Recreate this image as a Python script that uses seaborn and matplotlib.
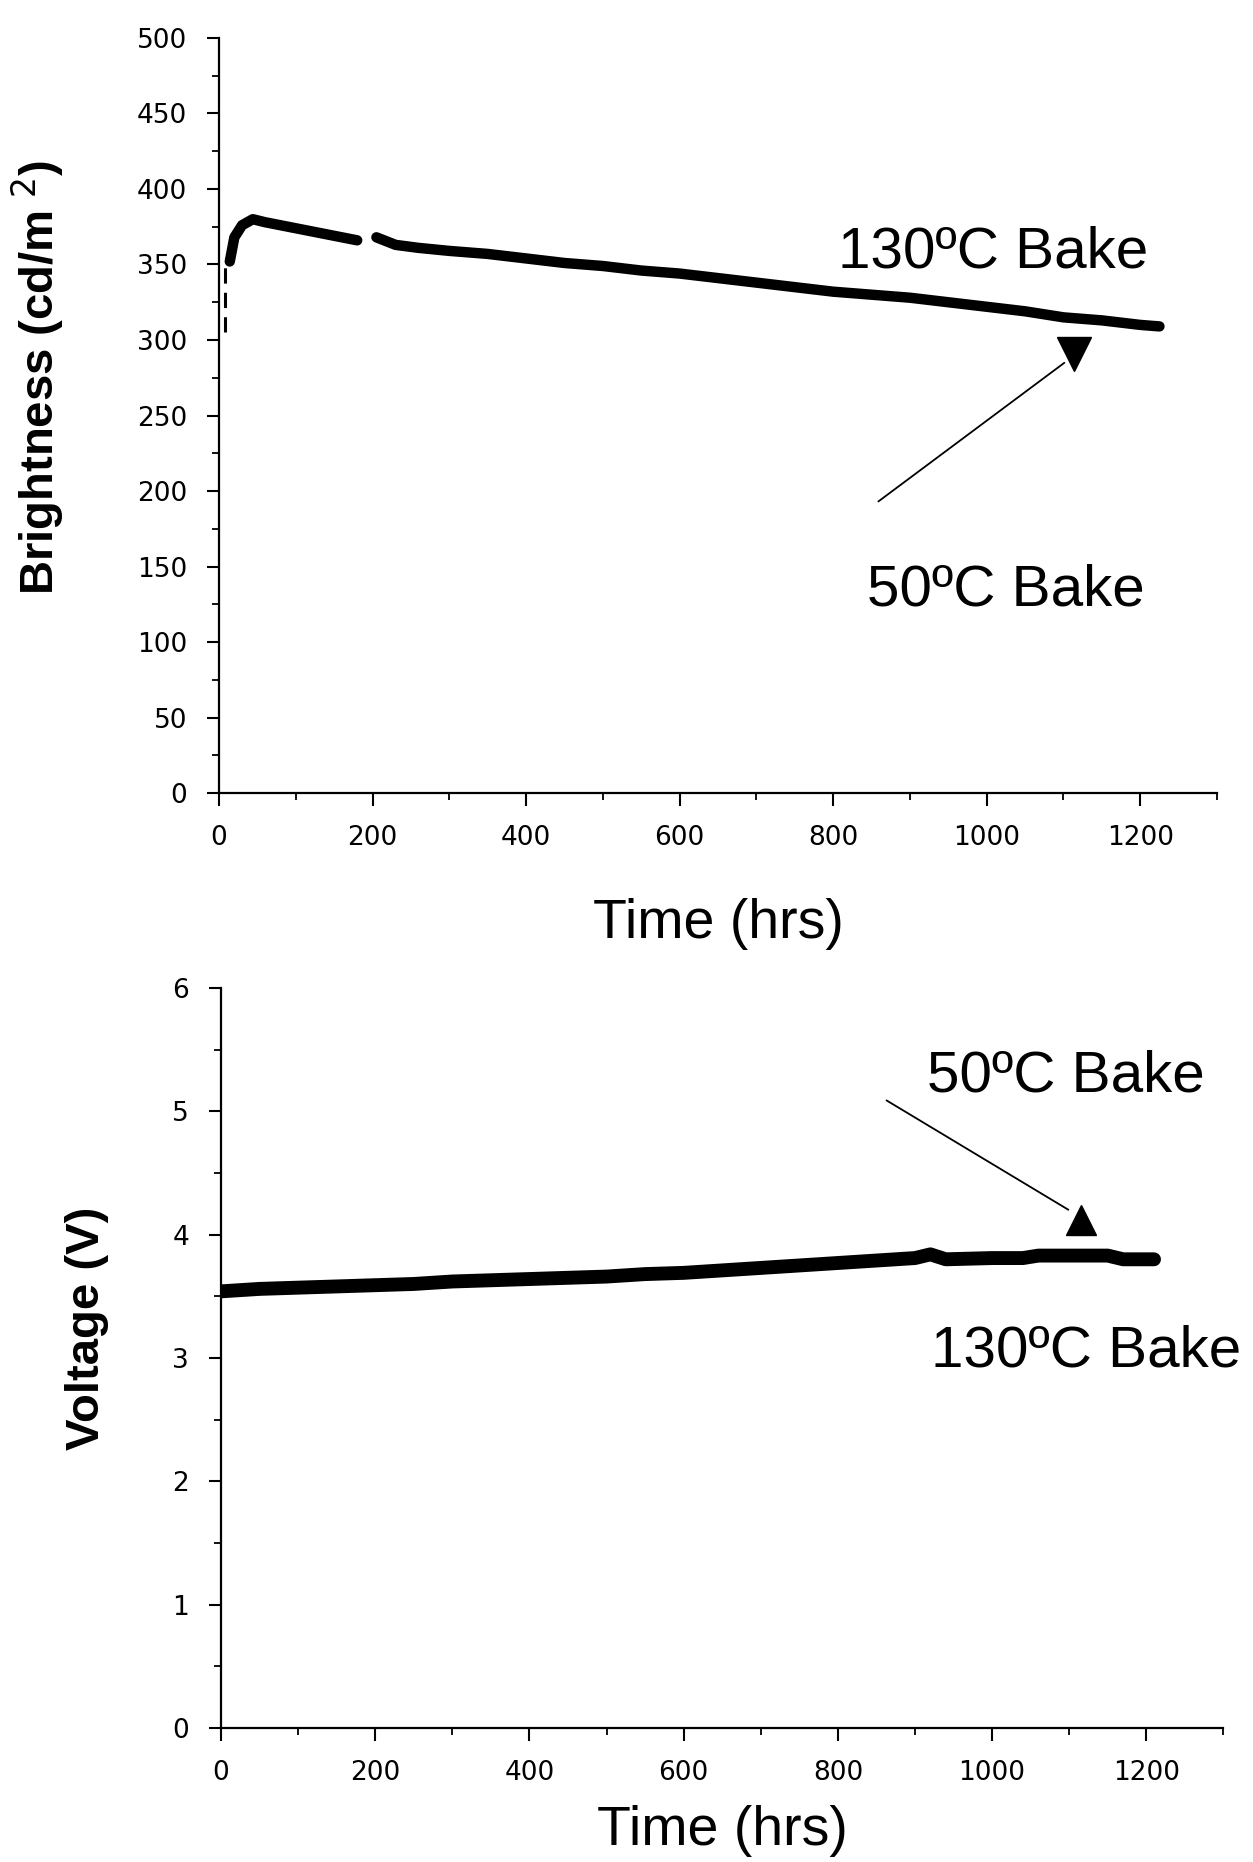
#!/usr/bin/env python
# -*- coding: utf-8 -*-

"""
Brilho e tensão ao longo do tempo de bake (130ºC vs 50ºC).
"""

import pandas as pd
import matplotlib.pyplot as plt
from matplotlib.ticker import MultipleLocator
import seaborn as sns

# --- dados ---
# brilho: segmento inicial tracejado, depois duas partes da curva (há um buraco ~190 h)
bright_ramp_t = [8, 8]
bright_ramp_b = [305, 352]
bright_seg1_t = [14, 20, 30, 44, 60, 80, 100, 130, 160, 180]
bright_seg1_b = [352, 368, 376, 380, 378, 376, 374, 371, 368, 366]
bright_seg2_t = [205, 230, 260, 300, 350, 400, 450, 500, 550, 600, 650, 700, 750,
                 800, 850, 900, 950, 1000, 1050, 1100, 1150, 1200, 1225]
bright_seg2_b = [368, 363, 361, 359, 357, 354, 351, 349, 346, 344, 341, 338, 335,
                 332, 330, 328, 325, 322, 319, 315, 313, 310, 309]

# tensão
volt_t = [0, 50, 100, 150, 200, 250, 300, 350, 400, 450, 500, 550, 600, 650, 700,
          750, 800, 850, 900, 920, 940, 1000, 1040, 1060, 1100, 1150, 1170, 1210]
volt_v = [3.54, 3.56, 3.57, 3.58, 3.59, 3.60, 3.62, 3.63, 3.64, 3.65, 3.66, 3.68,
          3.69, 3.71, 3.73, 3.75, 3.77, 3.79, 3.81, 3.84, 3.80, 3.81, 3.81, 3.83,
          3.83, 3.83, 3.80, 3.80]

# marcador do 50ºC (triângulo) e setas
b50_t, b50_b = [1114], [291]
v50_t, v50_v = [1115], [4.12]
arrow_top = ((856, 192), (1104, 286))
arrow_bot = ((860, 5.10), (1102, 4.19))

rotulo_130 = "130ºC Bake"
rotulo_50 = "50ºC Bake"

sns.set_style("ticks")
plt.rcParams['font.family'] = ['Liberation Sans', 'DejaVu Sans']
plt.rcParams.update({
    'axes.linewidth': 1.6,
    'axes.edgecolor': 'black',
    'axes.labelcolor': 'black',
    'text.color': 'black',
    'xtick.color': 'black',
    'ytick.color': 'black',
})

fig = plt.figure(figsize=(12.53, 18.62), dpi=100)
ax1 = fig.add_axes([0.1748, 0.5741, 0.7965, 0.4055])
ax2 = fig.add_axes([0.1764, 0.0720, 0.8000, 0.3974])

# --- painel de brilho ---
# estimator=None senão o seaborn junta os dois pontos com o mesmo x
sns.lineplot(x=bright_ramp_t, y=bright_ramp_b, ax=ax1, color='black', lw=2.2,
             estimator=None, errorbar=None, sort=False, linestyle=(0, (5, 3)))
sns.lineplot(x=bright_seg1_t, y=bright_seg1_b, ax=ax1, color='black', lw=7.5,
             estimator=None, sort=False)
sns.lineplot(x=bright_seg2_t, y=bright_seg2_b, ax=ax1, color='black', lw=7.5,
             estimator=None, sort=False)
ax1.plot(b50_t, b50_b, marker='v', markersize=24, color='black', linestyle='none')
ax1.annotate('', xy=arrow_top[1], xytext=arrow_top[0],
             arrowprops=dict(arrowstyle='-', lw=1.3, color='black'))
ax1.text(1008, 348, rotulo_130, fontsize=42, ha='center', va='baseline')
ax1.text(1025, 124, rotulo_50, fontsize=42, ha='center', va='baseline')

ax1.set_xlim(0, 1300)
ax1.set_ylim(0, 500)
ax1.xaxis.set_major_locator(MultipleLocator(200))
ax1.xaxis.set_minor_locator(MultipleLocator(100))
ax1.yaxis.set_major_locator(MultipleLocator(50))
ax1.yaxis.set_minor_locator(MultipleLocator(25))
ax1.set_xlabel('Time (hrs)', fontsize=40, labelpad=34)
ax1.set_ylabel('Brightness (cd/m$^{\\ 2}$)', fontsize=34, fontweight='bold')
ax1.yaxis.set_label_coords(-0.153, 0.55)

# --- painel de tensão ---
sns.lineplot(x=volt_t, y=volt_v, ax=ax2, color='black', lw=10,
             estimator=None, sort=False)
ax2.plot(v50_t, v50_v, marker='^', markersize=22, color='black', linestyle='none')
ax2.annotate('', xy=arrow_bot[1], xytext=arrow_bot[0],
             arrowprops=dict(arrowstyle='-', lw=1.3, color='black'))
ax2.text(1096, 5.16, rotulo_50, fontsize=42, ha='center', va='baseline')
ax2.text(1122, 2.93, rotulo_130, fontsize=42, ha='center', va='baseline')

ax2.set_xlim(0, 1300)
ax2.set_ylim(0, 6)
ax2.xaxis.set_major_locator(MultipleLocator(200))
ax2.xaxis.set_minor_locator(MultipleLocator(100))
ax2.yaxis.set_major_locator(MultipleLocator(1))
ax2.yaxis.set_minor_locator(MultipleLocator(0.5))
ax2.set_xlabel('Time (hrs)', fontsize=40, labelpad=14)
ax2.set_ylabel('Voltage (V)', fontsize=34, fontweight='bold')
ax2.yaxis.set_label_coords(-0.112, 0.54)

for ax in (ax1, ax2):
    sns.despine(ax=ax)
    ax.tick_params(which='major', direction='out', length=9, width=1.5, pad=14)
    ax.tick_params(which='minor', direction='out', length=5, width=1.3)
    ax.tick_params(axis='x', labelsize=19)
    ax.tick_params(axis='y', labelsize=19)
    for lab in ax.get_xticklabels() + ax.get_yticklabels():
        lab.set_family('DejaVu Sans')

fig.savefig('out.png', dpi=100)
plt.close(fig)
